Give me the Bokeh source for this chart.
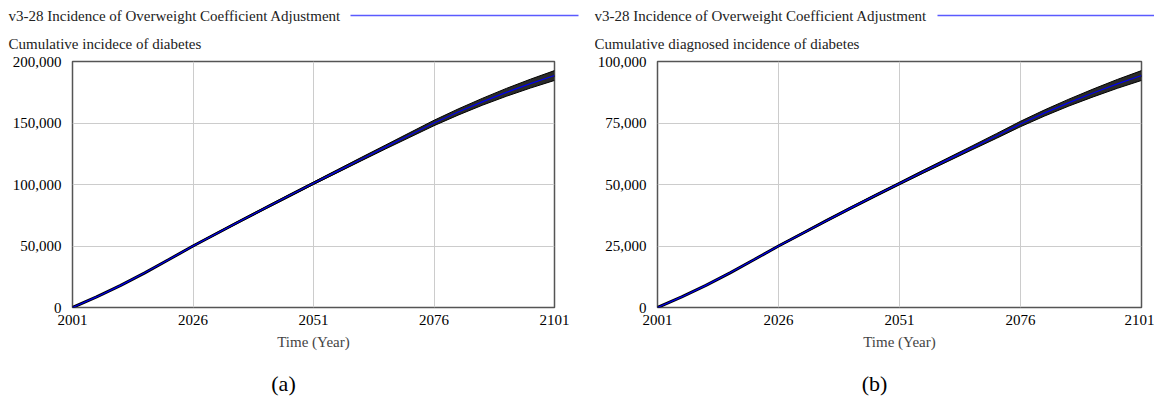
from bokeh.plotting import figure
from bokeh.models import Range1d, FixedTicker, NumeralTickFormatter
from bokeh.layouts import row, column
from bokeh.core.properties import value
from bokeh.embed import file_html
from bokeh.resources import INLINE

# ---------------- data ----------------
years = [2001, 2006, 2011, 2016, 2021, 2026, 2031, 2036, 2041, 2046, 2051,
         2056, 2061, 2066, 2071, 2076, 2081, 2086, 2091, 2096, 2101]

# panel (a): cumulative incidence of diabetes
a_mean = [0, 8600, 18000, 28200, 39000, 50000, 60400, 70700, 80900, 91000, 101000,
          110900, 120800, 130600, 140300, 150000, 158900, 167200, 174900, 182000, 188600]
a_low = [0, 8500, 17800, 27900, 38600, 49500, 59800, 70000, 80100, 90100, 100000,
         109700, 119400, 129000, 138400, 147800, 156400, 164400, 171700, 178400, 184600]
a_high = [0, 8700, 18200, 28500, 39400, 50500, 61000, 71400, 81700, 91900, 102000,
          112100, 122200, 132200, 142200, 152200, 161400, 170000, 178100, 185600, 192600]

# panel (b): cumulative diagnosed incidence of diabetes
b_mean = [0, 4300, 9000, 14100, 19500, 25000, 30200, 35400, 40500, 45500, 50400,
          55300, 60100, 64900, 69700, 74600, 79100, 83300, 87200, 90900, 94300]
b_low = [0, 4250, 8900, 13950, 19300, 24750, 29900, 35050, 40100, 45050, 49900,
         54700, 59400, 64100, 68750, 73500, 77850, 81900, 85600, 89100, 92300]
b_high = [0, 4350, 9100, 14250, 19700, 25250, 30500, 35750, 40900, 45950, 50900,
          55900, 60800, 65700, 70650, 75700, 80350, 84700, 88800, 92700, 96300]

x_ticks = [2001, 2026, 2051, 2076, 2101]
a_yticks = [0, 50000, 100000, 150000, 200000]
b_yticks = [0, 25000, 50000, 75000, 100000]

run_title = "v3-28 Incidence of Overweight Coefficient Adjustment"
a_var = "Cumulative incidece of diabetes"
b_var = "Cumulative diagnosed incidence of diabetes"
x_title = "Time (Year)"
a_caption = "(a)"
b_caption = "(b)"

FONT = "Liberation Serif"
FH = 246
HEAD_H = 53
FOOT_H = 40


def blank(w, h):
    """A figure with no axes/grid used as a pixel canvas for surrounding texts."""
    p = figure(width=w, height=h, x_range=Range1d(0, w), y_range=Range1d(h, 0),
               min_border=0, x_axis_location=None, y_axis_location=None,
               output_backend="svg", toolbar_location=None)
    p.frame_align = False
    p.outline_line_color = None
    p.background_fill_color = "white"
    p.border_fill_color = "white"
    p.grid.visible = False
    return p


def make_header(w, tx, var_name, leg_x0, leg_x1):
    h = blank(w, HEAD_H)
    h.text(x=[tx], y=[15], text=[run_title], text_font=value(FONT), text_font_size=value("15px"),
           text_baseline="middle", text_align="left", text_color="#222222")
    h.line(x=[leg_x0, leg_x1], y=[15, 15], line_color="#5a5aff", line_width=1.6)
    h.text(x=[tx], y=[43], text=[var_name], text_font=value(FONT), text_font_size=value("15px"),
           text_baseline="middle", text_align="left", text_color="#222222")
    return h


def make_footer(w, caption, cx):
    f = blank(w, FOOT_H)
    f.text(x=[cx], y=[26], text=[caption], text_font=value(FONT), text_font_size=value("22px"),
           text_baseline="middle", text_align="center", text_color="black")
    return f


def make_panel(mean, low, high, yticks, bl, fw, br):
    p = figure(frame_width=fw, frame_height=FH,
               min_border_left=bl, min_border_right=br, min_border_top=8, min_border_bottom=50,
               x_range=Range1d(x_ticks[0], x_ticks[-1]), y_range=Range1d(yticks[0], yticks[-1]),
               output_backend="svg", toolbar_location=None)
    p.frame_align = False
    p.background_fill_color = "white"
    p.border_fill_color = "white"
    p.outline_line_color = "#555555"
    p.outline_line_width = 1.5

    for ax in (p.xaxis[0], p.yaxis[0]):
        ax.axis_line_color = None
        ax.major_tick_line_color = None
        ax.minor_tick_line_color = None
        ax.major_tick_out = 0
        ax.major_tick_in = 0
        ax.minor_tick_out = 0
        ax.minor_tick_in = 0
        ax.major_label_text_font = FONT
        ax.major_label_text_font_size = "15px"
        ax.major_label_text_color = "black"
    p.xaxis.ticker = FixedTicker(ticks=x_ticks)
    p.yaxis.ticker = FixedTicker(ticks=yticks)
    p.yaxis.formatter = NumeralTickFormatter(format="0,0")
    p.xaxis.major_label_standoff = 7
    p.yaxis.major_label_standoff = 11
    p.xaxis.axis_label = x_title
    p.xaxis.axis_label_text_font = FONT
    p.xaxis.axis_label_text_font_style = "normal"
    p.xaxis.axis_label_text_font_size = "15px"
    p.xaxis.axis_label_standoff = 6

    p.grid.grid_line_color = "#cccccc"
    p.grid.grid_line_width = 1
    p.xgrid.ticker = FixedTicker(ticks=x_ticks)
    p.ygrid.ticker = FixedTicker(ticks=yticks)

    # sensitivity band + base run
    p.line(years, mean, line_color="black", line_width=3)
    p.varea(x=years, y1=low, y2=high, fill_color="#2a2a2a", fill_alpha=1.0)
    p.line(years, low, line_color="black", line_width=1)
    p.line(years, high, line_color="black", line_width=1)
    p.line(years, mean, line_color="#0000ee", line_width=1.2)
    return p


WA, WB = 594, 560
pa = make_panel(a_mean, a_low, a_high, a_yticks, bl=72, fw=482, br=40)
pb = make_panel(b_mean, b_low, b_high, b_yticks, bl=63, fw=484, br=13)
ha = make_header(WA, 8, a_var, 350, 578)
hb = make_header(WB, 0, b_var, 343, 560)
fa = make_footer(WA, a_caption, 283)
fb = make_footer(WB, b_caption, 280)

layout = row(column(ha, pa, fa), column(hb, pb, fb))
open("out.html", "w").write(file_html(layout, INLINE))
